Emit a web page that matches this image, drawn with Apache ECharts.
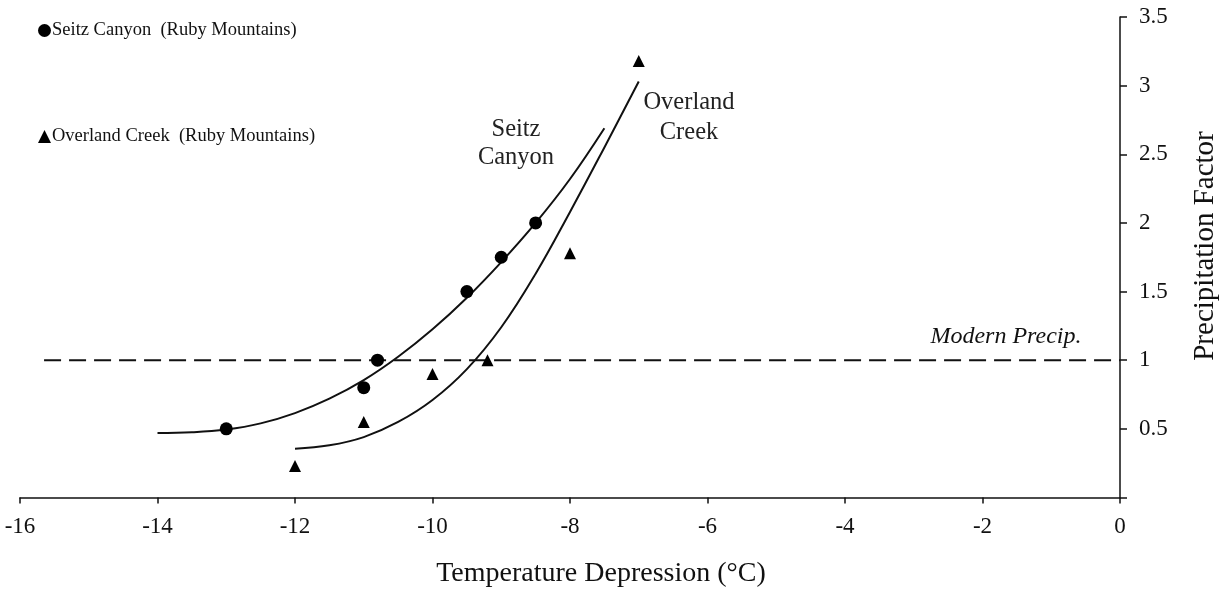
<!DOCTYPE html>
<html>
<head>
<meta charset="utf-8">
<script src="https://cdn.jsdelivr.net/npm/echarts@6/dist/echarts.min.js"></script>
<style>
html,body{margin:0;padding:0;background:#fff;}
#chart{width:1226px;height:590px;}
</style>
</head>
<body>
<div id="chart"></div>
<script>
// Observed data points
const seitzX = [-13, -11, -10.8, -9.5, -9, -8.5];
const seitzY = [0.5, 0.8, 1.0, 1.5, 1.75, 2.0];
const overlandX = [-12, -11, -10, -9.2, -8, -7];
const overlandY = [0.23, 0.55, 0.9, 1.0, 1.78, 3.18];

// Fitted curves
const seitzFitX = [-14, -13.5, -13, -12.5, -12, -11.5, -11, -10.5, -10, -9.5, -9, -8.5, -8, -7.5];
const seitzFitY = [0.47, 0.475, 0.495, 0.54, 0.615, 0.72, 0.855, 1.025, 1.225, 1.455, 1.715, 2.0, 2.32, 2.69];
const overlandFitX = [-12, -11.5, -11, -10.5, -10, -9.5, -9, -8.5, -8, -7.5, -7];
const overlandFitY = [0.355, 0.38, 0.44, 0.55, 0.71, 0.935, 1.24, 1.63, 2.08, 2.55, 3.03];

// Modern precipitation reference
const modernX = [-15.65, 0];
const modernY = [1, 1];

const xTicks = { min: -16, max: 0, interval: 2 };
const yTicks = { min: 0, max: 3.5, interval: 0.5 };

const seriesLabels = ['Seitz Canyon  (Ruby Mountains)', 'Overland Creek  (Ruby Mountains)'];

const zip = (xs, ys) => xs.map((x, i) => [x, ys[i]]);
const FONT = '"Liberation Serif", "Times New Roman", serif';

const legendText = { fontFamily: FONT, fontSize: 18.5, color: '#111', padding: [0, 0, 0, -4] };

const chart = echarts.init(document.getElementById('chart'));
chart.setOption({
  animation: false,
  backgroundColor: '#fff',
  grid: { left: 20, right: 106, top: 17, bottom: 92.5, containLabel: false },
  legend: [
    {
      left: 33, top: 16, itemWidth: 13, itemHeight: 13,
      data: [{ name: seriesLabels[0], icon: 'circle' }],
      textStyle: legendText, selectedMode: false
    },
    {
      left: 33, top: 122, itemWidth: 13, itemHeight: 13,
      data: [{ name: seriesLabels[1], icon: 'triangle' }],
      textStyle: legendText, selectedMode: false
    }
  ],
  xAxis: {
    type: 'value',
    min: xTicks.min, max: xTicks.max, interval: xTicks.interval,
    axisLine: { onZero: false, lineStyle: { color: '#111', width: 1.5 } },
    axisTick: { show: true, length: 6, lineStyle: { color: '#111', width: 1.5 } },
    axisLabel: { fontFamily: FONT, fontSize: 23, color: '#111', margin: 18 },
    splitLine: { show: false }
  },
  yAxis: {
    type: 'value',
    position: 'right',
    min: yTicks.min, max: yTicks.max, interval: yTicks.interval,
    axisLine: { show: true, lineStyle: { color: '#111', width: 1.5 } },
    axisTick: { show: true, length: 7, lineStyle: { color: '#111', width: 1.5 } },
    axisLabel: {
      fontFamily: FONT, fontSize: 23, color: '#111', margin: 19,
      formatter: v => (v === 0 ? '' : String(v))
    },
    splitLine: { show: false }
  },
  graphic: [
    { type: 'text', x: 601, y: 574,
      style: { text: 'Temperature Depression (°C)', font: '28px ' + FONT, fill: '#111', align: 'center', verticalAlign: 'middle' } },
    { type: 'text', x: 1205, y: 246, rotation: Math.PI / 2,
      style: { text: 'Precipitation Factor', font: '29px ' + FONT, fill: '#111', align: 'center', verticalAlign: 'middle' } },
    { type: 'text', x: 516, y: 144,
      style: { text: 'Seitz\nCanyon', font: '24.5px ' + FONT, fill: '#222', align: 'center', verticalAlign: 'middle', lineHeight: 28 } },
    { type: 'text', x: 689, y: 118,
      style: { text: 'Overland\nCreek', font: '24.5px ' + FONT, fill: '#222', align: 'center', verticalAlign: 'middle', lineHeight: 30 } },
    { type: 'text', x: 1006, y: 337,
      style: { text: 'Modern Precip.', font: 'italic 24px ' + FONT, fill: '#111', align: 'center', verticalAlign: 'middle' } }
  ],
  series: [
    {
      name: 'modern', type: 'line', data: zip(modernX, modernY),
      showSymbol: false, symbol: 'none', silent: true,
      lineStyle: { color: '#111', width: 2, type: [17, 8] }, z: 1
    },
    {
      name: 'seitzFit', type: 'line', data: zip(seitzFitX, seitzFitY),
      smooth: 0.4, symbol: 'none', silent: true,
      lineStyle: { color: '#111', width: 2 }, z: 2
    },
    {
      name: 'overlandFit', type: 'line', data: zip(overlandFitX, overlandFitY),
      smooth: 0.4, symbol: 'none', silent: true,
      lineStyle: { color: '#111', width: 2 }, z: 2
    },
    {
      name: seriesLabels[0], type: 'scatter', data: zip(seitzX, seitzY),
      symbol: 'circle', symbolSize: 13,
      itemStyle: { color: '#000', opacity: 1 }, z: 3
    },
    {
      name: seriesLabels[1], type: 'scatter', data: zip(overlandX, overlandY),
      symbol: 'triangle', symbolSize: 12,
      itemStyle: { color: '#000', opacity: 1 }, z: 3
    }
  ]
});
</script>
</body>
</html>
